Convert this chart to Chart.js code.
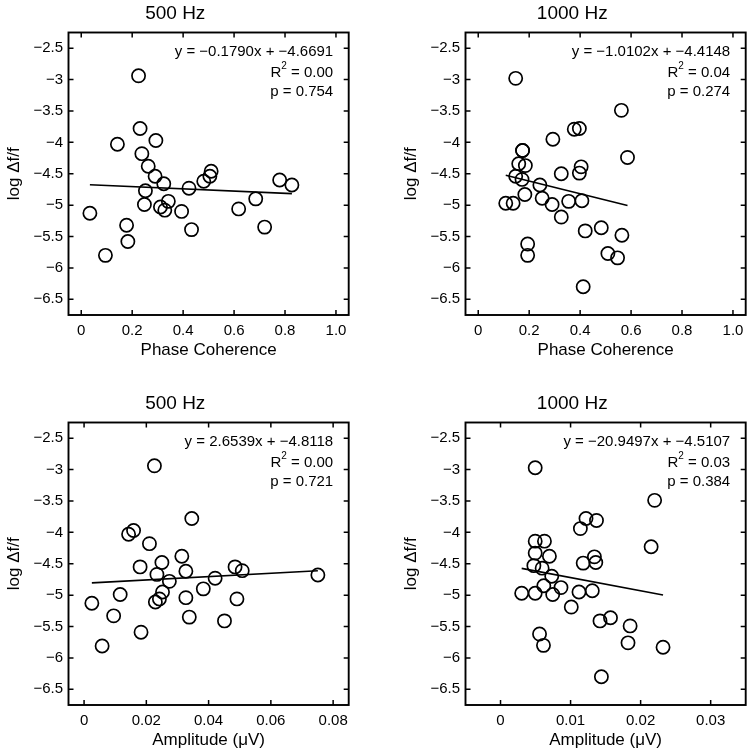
<!DOCTYPE html>
<html><head><meta charset="utf-8">
<script src="https://cdn.jsdelivr.net/npm/chart.js@4.4.1/dist/chart.umd.min.js"></script>
<style>
html,body{margin:0;padding:0;background:#fff;overflow:hidden;width:754px;height:756px;}
canvas{position:absolute;}
</style></head><body>
<canvas id="c1" style="left:0;top:0" width="357" height="366"></canvas>
<canvas id="c2" style="left:397px;top:0" width="357" height="366"></canvas>
<canvas id="c3" style="left:0;top:390px" width="357" height="366"></canvas>
<canvas id="c4" style="left:397px;top:390px" width="357" height="366"></canvas>
<script>
// ---- tick values / labels ----
const yTickValues = [-6.5, -6, -5.5, -5, -4.5, -4, -3.5, -3, -2.5];
const yTickLabels = ['\u22126.5', '\u22126', '\u22125.5', '\u22125', '\u22124.5', '\u22124', '\u22123.5', '\u22123', '\u22122.5'];
const phaseTickValues = [0, 0.2, 0.4, 0.6, 0.8, 1.0];
const phaseTickLabels = ['0', '0.2', '0.4', '0.6', '0.8', '1.0'];
const amp500TickValues = [0, 0.02, 0.04, 0.06, 0.08];
const amp500TickLabels = ['0', '0.02', '0.04', '0.06', '0.08'];
const amp1000TickValues = [0, 0.01, 0.02, 0.03];
const amp1000TickLabels = ['0', '0.01', '0.02', '0.03'];

// ---- panel titles / axis labels ----
const panelTitles = ['500 Hz', '1000 Hz', '500 Hz', '1000 Hz'];
const xLabels = ['Phase Coherence', 'Phase Coherence', 'Amplitude (\u03bcV)', 'Amplitude (\u03bcV)'];
const yLabel = 'log \u0394f/f';

// ---- series: 500 Hz vs phase coherence ----
const phase500X = [0.034, 0.095, 0.142, 0.178, 0.183, 0.225, 0.231, 0.238, 0.263, 0.293, 0.290, 0.252, 0.248, 0.324,
  0.311, 0.328, 0.342, 0.394, 0.423, 0.433, 0.481, 0.505, 0.510, 0.618, 0.685, 0.720, 0.779, 0.827];
const phase500Y = [-5.13, -5.80, -4.03, -5.32, -5.58, -2.94, -3.78, -4.18, -4.38, -3.97, -4.54, -4.77, -4.99, -4.66,
  -5.03, -5.08, -4.94, -5.10, -4.73, -5.39, -4.62, -4.54, -4.46, -5.06, -4.90, -5.35, -4.60, -4.68];

// ---- series: 1000 Hz vs phase coherence ----
const phase1000X = [0.147, 0.562, 0.293, 0.377, 0.397, 0.586, 0.174, 0.174, 0.159, 0.185, 0.147, 0.172, 0.108, 0.137,
  0.183, 0.242, 0.251, 0.290, 0.326, 0.326, 0.355, 0.404, 0.397, 0.407, 0.420, 0.483, 0.564, 0.509, 0.547, 0.194,
  0.194, 0.412];
const phase1000Y = [-2.98, -3.49, -3.95, -3.79, -3.78, -4.24, -4.13, -4.13, -4.34, -4.37, -4.54, -4.59, -4.97, -4.97,
  -4.83, -4.68, -4.89, -4.99, -5.19, -4.50, -4.94, -4.39, -4.49, -4.93, -5.41, -5.36, -5.48, -5.77, -5.84, -5.62,
  -5.80, -6.30];

// ---- series: 500 Hz vs amplitude ----
const amp500X = [0.0226, 0.0346, 0.0143, 0.0159, 0.0210, 0.0314, 0.0180, 0.0250, 0.0234, 0.0327, 0.0274, 0.0421,
  0.0485, 0.0508, 0.0751, 0.0383, 0.0252, 0.0242, 0.0229, 0.0327, 0.0491, 0.0025, 0.0116, 0.0095, 0.0338, 0.0451,
  0.0183, 0.0058];
const amp500Y = [-2.94, -3.78, -4.03, -3.97, -4.18, -4.38, -4.55, -4.48, -4.67, -4.62, -4.78, -4.73, -4.55, -4.61,
  -4.68, -4.90, -4.95, -5.06, -5.11, -5.04, -5.06, -5.13, -4.99, -5.33, -5.35, -5.41, -5.59, -5.81];

// ---- series: 1000 Hz vs amplitude ----
const amp1000X = [0.00495, 0.0220, 0.0122, 0.0137, 0.0114, 0.0215, 0.00495, 0.00627, 0.00495, 0.00698, 0.00476,
  0.00594, 0.0134, 0.0136, 0.0118, 0.00731, 0.00618, 0.00863, 0.00302, 0.00495, 0.00745, 0.0112, 0.0131, 0.0101,
  0.0142, 0.0157, 0.0185, 0.0182, 0.0232, 0.00557, 0.00613, 0.0144];
const amp1000Y = [-2.97, -3.49, -3.78, -3.81, -3.94, -4.23, -4.14, -4.14, -4.33, -4.38, -4.53, -4.57, -4.39, -4.48,
  -4.49, -4.70, -4.85, -4.88, -4.97, -4.97, -4.99, -4.95, -4.93, -5.19, -5.41, -5.36, -5.49, -5.76, -5.83, -5.62,
  -5.80, -6.30];

// ---- regression fits (slope, intercept, R^2, p) ----
const fitSlopes = [-0.1790, -1.0102, 2.6539, -20.9497];
const fitIntercepts = [-4.6691, -4.4148, -4.8118, -4.5107];
const fitSlopeText = ['\u22120.1790', '\u22121.0102', '2.6539', '\u221220.9497'];
const fitInterceptText = ['\u22124.6691', '\u22124.4148', '\u22124.8118', '\u22124.5107'];
const fitR2Text = ['0.00', '0.04', '0.00', '0.03'];
const fitPText = ['0.754', '0.274', '0.721', '0.384'];

const FONT = "'Liberation Sans', Arial, Helvetica, sans-serif";

const framePlugin = {
  id: 'frame',
  afterDatasetsDraw(chart) {
    const ctx = chart.ctx, a = chart.chartArea;
    const xs = chart.scales.x, ys = chart.scales.y;
    const TL = 5;
    ctx.save();
    ctx.strokeStyle = '#000';
    ctx.lineWidth = 1.5;
    ctx.beginPath();
    xs.ticks.forEach(t => {
      const p = xs.getPixelForValue(t.value);
      ctx.moveTo(p, a.bottom); ctx.lineTo(p, a.bottom - TL);
      ctx.moveTo(p, a.top); ctx.lineTo(p, a.top + TL);
    });
    ys.ticks.forEach(t => {
      const p = ys.getPixelForValue(t.value);
      ctx.moveTo(a.left, p); ctx.lineTo(a.left + TL, p);
      ctx.moveTo(a.right, p); ctx.lineTo(a.right - TL, p);
    });
    ctx.stroke();
    ctx.lineWidth = 1.9;
    ctx.strokeRect(a.left, a.top, a.right - a.left, a.bottom - a.top);
    // fit annotation
    const i = chart.options.plugins.frame.idx;
    const rx = a.right - 15.5;
    ctx.fillStyle = '#000';
    ctx.textAlign = 'right';
    ctx.textBaseline = 'middle';
    ctx.font = '15px ' + FONT;
    ctx.fillText('y = ' + fitSlopeText[i] + 'x + ' + fitInterceptText[i], rx, a.top + 19.5);
    const rest = ' = ' + fitR2Text[i];
    const wRest = ctx.measureText(rest).width;
    ctx.fillText(rest, rx, a.top + 40);
    ctx.font = '10px ' + FONT;
    const wSup = ctx.measureText('2').width;
    ctx.fillText('2', rx - wRest, a.top + 34);
    ctx.font = '15px ' + FONT;
    ctx.fillText('R', rx - wRest - wSup, a.top + 40);
    ctx.fillText('p = ' + fitPText[i], rx, a.top + 59.5);
    ctx.restore();
  }
};

function makeChart(id, idx, xs, ys, xMin, xMax, xTickValues, xTickLabels) {
  const pts = xs.map((x, k) => ({x: x, y: ys[k]}));
  const lo = Math.min(...xs), hi = Math.max(...xs);
  const fit = [lo, hi].map(x => ({x: x, y: fitSlopes[idx] * x + fitIntercepts[idx]}));
  return new Chart(document.getElementById(id), {
    type: 'scatter',
    data: {
      datasets: [
        {data: pts, pointStyle: 'circle', pointRadius: 6.6, pointHoverRadius: 6.6, borderColor: '#000',
         backgroundColor: 'rgba(0,0,0,0)', borderWidth: 1.7},
        {type: 'line', data: fit, borderColor: '#000', borderWidth: 1.6, pointRadius: 0, fill: false,
         showLine: true, tension: 0}
      ]
    },
    options: {
      responsive: false, animation: false, devicePixelRatio: 1,
      layout: {padding: {left: 0, right: 6.5, top: 0, bottom: 0}},
      events: [],
      plugins: {
        legend: {display: false}, tooltip: {enabled: false},
        title: {display: true, text: panelTitles[idx], color: '#000',
                font: {family: FONT, size: 19, weight: 'normal'}, padding: {top: 1.9, bottom: 7.8}},
        frame: {idx: idx}
      },
      scales: {
        x: {
          type: 'linear', position: 'bottom', min: xMin, max: xMax,
          grid: {display: false, drawTicks: false, tickLength: 0}, border: {display: false},
          afterBuildTicks: s => { s.ticks = xTickValues.map(v => ({value: v})); },
          afterFit: s => { s.height = 51; s.paddingLeft = 0; s.paddingRight = 0; },
          ticks: {color: '#000', font: {family: FONT, size: 15}, padding: 7, maxRotation: 0, autoSkip: false,
                  callback: (v, k) => xTickLabels[k]},
          title: {display: true, text: xLabels[idx], color: '#000', font: {family: FONT, size: 17},
                  padding: {top: 0, bottom: 5}}
        },
        y: {
          type: 'linear', position: 'left', min: -6.75, max: -2.25,
          grid: {display: false, drawTicks: false, tickLength: 0}, border: {display: false},
          afterBuildTicks: s => { s.ticks = yTickValues.map(v => ({value: v})); },
          afterFit: s => { s.width = 68.5; s.paddingTop = 0; s.paddingBottom = 0; },
          ticks: {color: '#000', font: {family: FONT, size: 15}, padding: 5.5, autoSkip: false,
                  callback: (v, k) => yTickLabels[k]},
          title: {display: true, text: yLabel, color: '#000', font: {family: FONT, size: 17},
                  padding: {top: 4.3, bottom: 0}}
        }
      }
    },
    plugins: [framePlugin]
  });
}

makeChart('c1', 0, phase500X, phase500Y, -0.05, 1.05, phaseTickValues, phaseTickLabels);
makeChart('c2', 1, phase1000X, phase1000Y, -0.05, 1.05, phaseTickValues, phaseTickLabels);
makeChart('c3', 2, amp500X, amp500Y, -0.005, 0.085, amp500TickValues, amp500TickLabels);
makeChart('c4', 3, amp1000X, amp1000Y, -0.005, 0.035, amp1000TickValues, amp1000TickLabels);
</script>
</body></html>
